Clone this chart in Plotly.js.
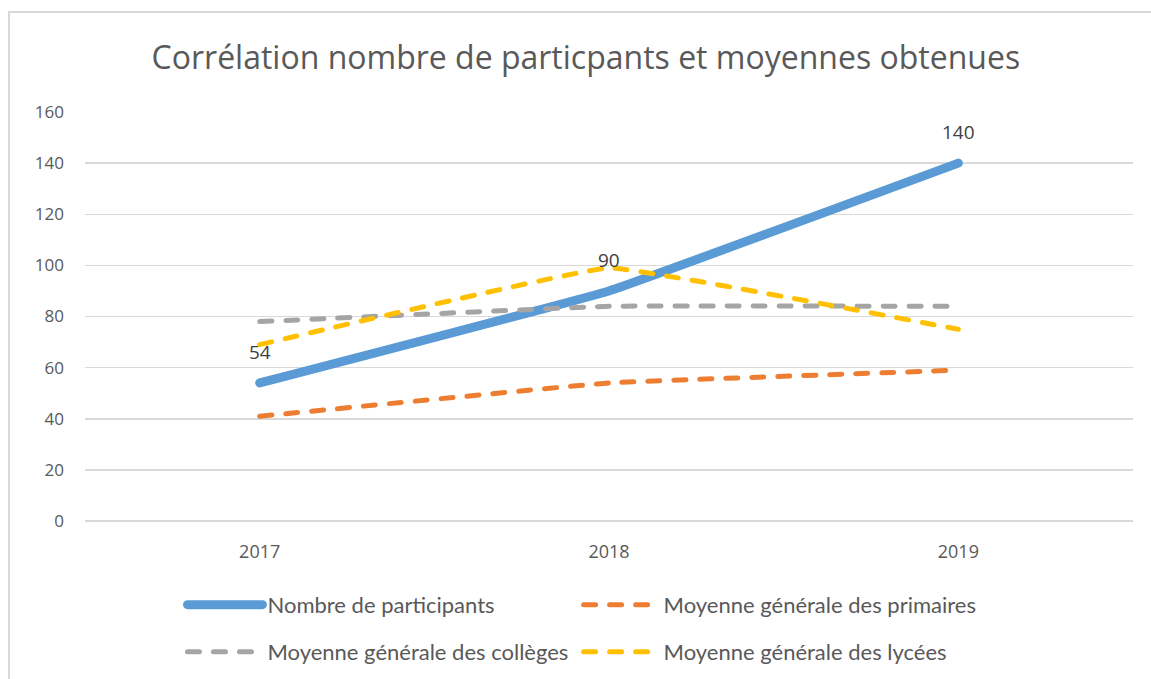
<!DOCTYPE html>
<html>
<head>
<meta charset="utf-8">
<script src="https://cdn.plot.ly/plotly-3.0.1.min.js"></script>
<style>
  body { margin: 0; background: #fff; }
  #chart { width: 1151px; height: 679px; }
  #frame { position: absolute; left: 8px; top: 11px; width: 1160px; height: 700px;
           border: 2px solid #d9d9d9; pointer-events: none; }
  .scatterlayer .js-line, .legendlines path { stroke-linecap: round; }
</style>
</head>
<body>
<div id="chart"></div>
<div id="frame"></div>
<script>
// chart data
const years = ['2017', '2018', '2019'];
const participants = [54, 90, 140];
const primaires = [41, 54, 59];
const colleges = [78, 84, 84];
const lycees = [69, 99, 75];

const grey = '#595959';
const font = 'Lato, "Open Sans", sans-serif';
const tickFont = '"Open Sans", Lato, sans-serif';

function dashed(name, values, color, legend) {
    return {
        x: years, y: values, name: name, type: 'scatter', mode: 'lines',
        line: { color: color, width: 5, dash: '12px,14px', shape: 'spline', smoothing: 0.2 },
        legend: legend, hoverinfo: 'skip'
    };
}

const traces = [
    {
        x: years, y: participants, name: 'Nombre de participants', type: 'scatter', mode: 'lines',
        line: { color: '#5b9bd5', width: 9, shape: 'spline', smoothing: 0.2 },
        legend: 'legend', hoverinfo: 'skip'
    },
    dashed('Moyenne générale des primaires', primaires, '#ed7d31', 'legend2'),
    dashed('Moyenne générale des collèges', colleges, '#a5a5a5', 'legend3'),
    dashed('Moyenne générale des lycées', lycees, '#ffc000', 'legend4')
];

// data labels on the participants line (category index for x)
const labels = years.map((yr, i) => ({
    x: i, y: participants[i], xref: 'x', yref: 'y', text: String(participants[i]),
    showarrow: false, yshift: 31, font: { family: tickFont, size: 19, color: '#404040' }
}));

const legendBase = {
    orientation: 'v', xanchor: 'left', yanchor: 'middle',
    itemwidth: 75, bgcolor: 'rgba(0,0,0,0)',
    font: { family: font, size: 22, color: grey }
};
const col1 = 0.093, col2 = 0.471, row1 = -0.205, row2 = -0.32;

const layout = {
    width: 1151, height: 679,
    margin: { l: 85, r: 18, t: 112, b: 158, autoexpand: false },
    paper_bgcolor: '#fff', plot_bgcolor: '#fff',
    title: {
        text: 'Corrélation nombre de particpants et moyennes obtenues',
        font: { family: tickFont, size: 32, color: grey },
        x: 0.509, xanchor: 'center', y: 0.915, yanchor: 'middle'
    },
    xaxis: {
        type: 'category', range: [-0.5, 2.5], showgrid: false, zeroline: false,
        showline: false, ticks: '', ticklabelstandoff: 18,
        tickfont: { family: tickFont, size: 18, color: grey }, fixedrange: true
    },
    yaxis: {
        range: [0, 160], dtick: 20, gridcolor: '#d9d9d9', gridwidth: 1.5,
        zeroline: true, zerolinecolor: '#d9d9d9', zerolinewidth: 1.5,
        showline: false, ticks: '', ticklabelstandoff: 20,
        tickfont: { family: tickFont, size: 17, color: grey }, fixedrange: true
    },
    annotations: labels,
    legend: Object.assign({}, legendBase, { x: col1, y: row1 }),
    legend2: Object.assign({}, legendBase, { x: col2, y: row1 }),
    legend3: Object.assign({}, legendBase, { x: col1, y: row2 }),
    legend4: Object.assign({}, legendBase, { x: col2, y: row2 }),
    showlegend: true
};

Plotly.newPlot('chart', traces, layout, { displayModeBar: false, staticPlot: true });
</script>
</body>
</html>
